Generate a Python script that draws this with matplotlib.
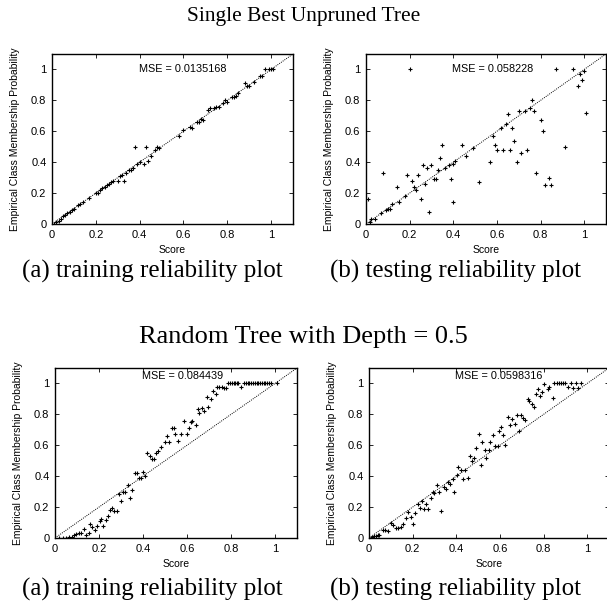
import numpy as np
import matplotlib
matplotlib.use("Agg")
import matplotlib.pyplot as plt

# ---- données ----
# arbre unique, entraînement
x_train1 = [0.01, 0.02, 0.03, 0.04, 0.05, 0.06, 0.07, 0.08, 0.09, 0.10, 0.12, 0.13, 0.14, 0.17,
            0.20, 0.21, 0.22, 0.23, 0.24, 0.25, 0.26, 0.27, 0.28, 0.30, 0.31, 0.32, 0.33, 0.34,
            0.35, 0.36, 0.37, 0.38, 0.39, 0.40, 0.42, 0.43, 0.44, 0.45, 0.47, 0.48, 0.49, 0.58,
            0.60, 0.63, 0.64, 0.66, 0.67, 0.68, 0.69, 0.71, 0.72, 0.74, 0.75, 0.76, 0.78, 0.79,
            0.80, 0.82, 0.83, 0.84, 0.85, 0.88, 0.89, 0.90, 0.92, 0.95, 0.96, 0.97, 0.99, 1.00, 1.01]
y_train1 = [0.00, 0.01, 0.02, 0.03, 0.05, 0.06, 0.07, 0.08, 0.09, 0.10, 0.12, 0.13, 0.14, 0.17,
            0.20, 0.20, 0.22, 0.23, 0.24, 0.25, 0.26, 0.27, 0.28, 0.28, 0.31, 0.32, 0.28, 0.33,
            0.35, 0.35, 0.36, 0.50, 0.39, 0.40, 0.39, 0.50, 0.41, 0.44, 0.48, 0.50, 0.49, 0.57,
            0.61, 0.63, 0.62, 0.66, 0.66, 0.68, 0.67, 0.74, 0.75, 0.75, 0.76, 0.76, 0.78, 0.80,
            0.79, 0.82, 0.82, 0.83, 0.85, 0.91, 0.89, 0.89, 0.92, 0.96, 0.96, 1.00, 1.00, 1.00, 1.00]

# arbre unique, test
x_test1 = [0.01, 0.02, 0.025, 0.04, 0.07, 0.08, 0.09, 0.10, 0.11, 0.12, 0.14, 0.15, 0.18, 0.19,
           0.20, 0.21, 0.22, 0.23, 0.24, 0.25, 0.26, 0.27, 0.28, 0.29, 0.30, 0.31, 0.32, 0.33,
           0.34, 0.35, 0.36, 0.38, 0.39, 0.40, 0.40, 0.41, 0.44, 0.46, 0.49, 0.52, 0.57, 0.58,
           0.59, 0.60, 0.62, 0.63, 0.64, 0.65, 0.66, 0.67, 0.68, 0.69, 0.70, 0.71, 0.73, 0.74,
           0.75, 0.76, 0.77, 0.78, 0.80, 0.81, 0.82, 0.84, 0.85, 0.87, 0.91, 0.95, 0.97, 0.98,
           0.99, 1.00, 1.01]
y_test1 = [0.16, 0.015, 0.03, 0.03, 0.07, 0.33, 0.09, 0.10, 0.10, 0.13, 0.24, 0.14, 0.18, 0.32,
           1.00, 0.28, 0.24, 0.22, 0.32, 0.16, 0.38, 0.26, 0.36, 0.08, 0.38, 0.29, 0.29, 0.35,
           0.43, 0.51, 0.36, 0.38, 0.29, 0.14, 0.39, 0.41, 0.51, 0.44, 0.49, 0.27, 0.40, 0.57,
           0.51, 0.48, 0.62, 0.48, 0.65, 0.71, 0.48, 0.62, 0.54, 0.40, 0.73, 0.46, 0.73, 0.48,
           0.75, 0.80, 0.73, 0.33, 0.67, 0.60, 0.25, 0.30, 0.25, 1.00, 0.50, 1.00, 0.89, 0.97,
           0.93, 0.99, 0.72]

# arbre aléatoire, entraînement
x_train2 = [0.02, 0.035, 0.05, 0.065, 0.075, 0.085, 0.097, 0.11, 0.12, 0.132, 0.143, 0.155, 0.16,
            0.17, 0.18, 0.19, 0.203, 0.21, 0.22, 0.23, 0.24, 0.25, 0.26, 0.27, 0.28, 0.29, 0.30,
            0.31, 0.32, 0.33, 0.343, 0.35, 0.362, 0.373, 0.38, 0.39, 0.40, 0.41, 0.42, 0.43,
            0.44, 0.45, 0.46, 0.47, 0.48, 0.50, 0.51, 0.52, 0.53, 0.54, 0.545, 0.558, 0.573,
            0.588, 0.598, 0.609, 0.618, 0.624, 0.64, 0.648, 0.656, 0.667, 0.679, 0.69, 0.697,
            0.707, 0.72, 0.73, 0.738, 0.747, 0.757, 0.766, 0.776, 0.788, 0.796, 0.804, 0.812,
            0.82, 0.827, 0.833, 0.845, 0.86, 0.868, 0.876, 0.884, 0.892, 0.90, 0.908, 0.916,
            0.924, 0.932, 0.94, 0.948, 0.956, 0.964, 0.972, 0.98, 1.007]
y_train2 = [0.003, 0.003, 0.003, 0.005, 0.005, 0.02, 0.025, 0.03, 0.03, 0.06, 0.02, 0.03, 0.09,
            0.07, 0.054, 0.08, 0.11, 0.12, 0.075, 0.114, 0.145, 0.18, 0.196, 0.174, 0.174, 0.286,
            0.24, 0.30, 0.30, 0.34, 0.26, 0.31, 0.42, 0.42, 0.39, 0.39, 0.43, 0.40, 0.55, 0.53,
            0.51, 0.51, 0.55, 0.56, 0.59, 0.62, 0.66, 0.62, 0.715, 0.715, 0.67, 0.63, 0.67,
            0.76, 0.67, 0.71, 0.75, 0.76, 0.73, 0.834, 0.81, 0.84, 0.82, 0.91, 0.845, 0.90,
            0.95, 0.93, 0.98, 0.98, 0.98, 0.97, 0.97, 1.00, 1.00, 1.00, 1.00, 1.00, 1.00, 1.00,
            0.975, 1.00, 1.00, 1.00, 1.00, 1.00, 1.00, 1.00, 1.00, 1.00, 1.00, 1.00, 1.00, 1.00,
            1.00, 1.00, 1.00, 1.00]

# arbre aléatoire, test
x_test2 = [0.009, 0.016, 0.023, 0.03, 0.04, 0.047, 0.063, 0.075, 0.086, 0.10, 0.112, 0.124,
           0.135, 0.147, 0.157, 0.17, 0.18, 0.193, 0.20, 0.213, 0.223, 0.234, 0.243, 0.254,
           0.261, 0.272, 0.284, 0.292, 0.30, 0.312, 0.322, 0.332, 0.343, 0.353, 0.364, 0.373,
           0.384, 0.39, 0.402, 0.41, 0.422, 0.432, 0.442, 0.452, 0.462, 0.472, 0.48, 0.49,
           0.503, 0.514, 0.52, 0.53, 0.537, 0.549, 0.555, 0.567, 0.579, 0.59, 0.598, 0.605,
           0.616, 0.625, 0.636, 0.647, 0.656, 0.668, 0.678, 0.687, 0.697, 0.708, 0.717, 0.728,
           0.735, 0.745, 0.754, 0.766, 0.774, 0.785, 0.794, 0.804, 0.82, 0.827, 0.843, 0.85,
           0.86, 0.87, 0.88, 0.89, 0.90, 0.912, 0.924, 0.934, 0.95, 0.957, 0.972]
y_test2 = [0.0, 0.005, 0.01, 0.015, 0.02, 0.02, 0.05, 0.055, 0.045, 0.10, 0.086, 0.064, 0.064,
           0.07, 0.09, 0.128, 0.166, 0.138, 0.09, 0.16, 0.22, 0.195, 0.24, 0.19, 0.218, 0.19,
           0.26, 0.30, 0.29, 0.34, 0.296, 0.174, 0.33, 0.32, 0.36, 0.35, 0.38, 0.30, 0.41,
           0.46, 0.44, 0.38, 0.44, 0.39, 0.53, 0.50, 0.52, 0.58, 0.67, 0.47, 0.62, 0.57, 0.52,
           0.57, 0.623, 0.666, 0.597, 0.597, 0.695, 0.72, 0.668, 0.60, 0.78, 0.73, 0.77, 0.737,
           0.797, 0.695, 0.797, 0.776, 0.763, 0.90, 0.888, 0.867, 0.845, 0.93, 0.963, 0.92,
           0.942, 0.995, 0.967, 0.974, 0.903, 1.0, 1.0, 1.0, 1.0, 1.0, 1.0, 0.978, 1.0, 0.97,
           1.0, 0.97, 1.0]

mse_labels = ["MSE = 0.0135168", "MSE = 0.058228", "MSE = 0.084439", "MSE = 0.0598316"]
titres = ["Single Best Unpruned Tree", "Random Tree with Depth = 0.5"]
legendes = ["(a) training reliability plot", "(b) testing reliability plot"]

# ---- figure ----
W, H = 607, 606
fig = plt.figure(figsize=(W / 100, H / 100), dpi=100)
fig.patch.set_facecolor('white')

serif = ['Liberation Serif', 'DejaVu Serif']
sans = ['Liberation Sans', 'DejaVu Sans']

# positions des axes en pixels (gauche, haut, droite, bas)
boites = [(52, 54, 293, 224), (366, 54, 606, 224),
          (55, 368, 297, 538), (369, 368, 609, 538)]
donnees = [(x_train1, y_train1), (x_test1, y_test1), (x_train2, y_train2), (x_test2, y_test2)]
mse_y = [1.0, 1.0, 1.05, 1.05]

for k, (g, h, d, b) in enumerate(boites):
    ax = fig.add_axes([g / W, 1 - b / H, (d - g) / W, (b - h) / H])
    xs, ys = donnees[k]
    ax.plot([0, 1.1], [0, 1.1], color='black', lw=0.7, ls=(0, (1, 1.2)))
    ax.plot(xs, ys, ls='none', marker='+', ms=3.2, mew=0.8, color='black')
    ax.set_xlim(0, 1.1)
    ax.set_ylim(0, 1.1)
    ticks = [0, 0.2, 0.4, 0.6, 0.8, 1]
    labels = ['0', '0.2', '0.4', '0.6', '0.8', '1']
    ax.set_xticks(ticks)
    ax.set_xticklabels(labels, family=sans, fontsize=8)
    ax.set_yticks(ticks)
    ax.set_yticklabels(labels, family=sans, fontsize=8)
    ax.tick_params(direction='in', length=3, width=0.6, top=True, right=True, pad=4)
    for s in ax.spines.values():
        s.set_linewidth(1.0)
    ax.set_xlabel("Score", family=sans, fontsize=7.5, labelpad=4)
    ax.set_ylabel("Empirical Class Membership Probability", family=sans, fontsize=7.5, labelpad=8)
    ax.text(0.395, mse_y[k], mse_labels[k], family=sans, fontsize=7.8,
            ha='left', va='center')

# titres et sous-légendes
fig.text(0.5, 1 - 17 / H, titres[0], family=serif, fontsize=15.5, ha='center', va='center')
fig.text(0.5, 1 - 337 / H, titres[1], family=serif, fontsize=19, ha='center', va='center')
for ligne in (271, 589):
    fig.text(152 / W, 1 - ligne / H, legendes[0], family=serif, fontsize=18, ha='center', va='center')
    fig.text(456 / W, 1 - ligne / H, legendes[1], family=serif, fontsize=18, ha='center', va='center')

fig.savefig("out.png", dpi=100)
